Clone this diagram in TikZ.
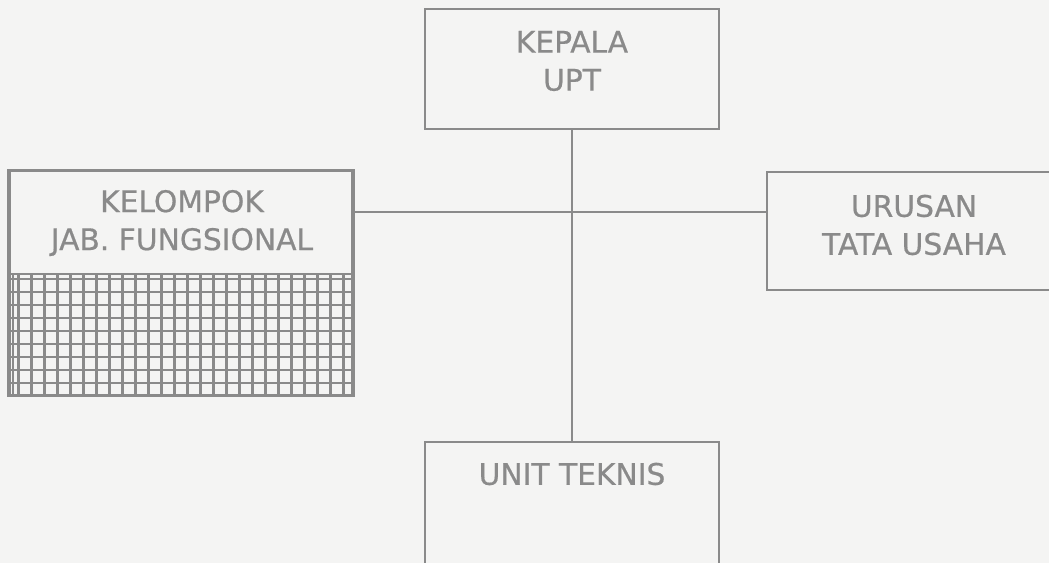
\documentclass[tikz,border=0pt]{standalone}
\usepackage{fontspec}
\setmainfont{DejaVu Sans}
\newfontfamily\boxfont{DejaVu Sans}[FakeBold=0.6]
\usetikzlibrary{positioning}

\definecolor{ink}{HTML}{8A8A8A}
\definecolor{paper}{HTML}{F4F4F3}

\begin{document}
\begin{tikzpicture}[
  x=0.75pt,y=-0.75pt,
  box/.style={rectangle,draw=ink,line width=1.7pt,minimum width=220.5pt,inner sep=0pt},
  lbl/.style={font=\boxfont\fontsize{22.3}{28.5}\selectfont,text=ink,align=center,inner sep=0pt},
  link/.style={draw=ink,line width=1.3pt},
  gridline/.style={draw=ink,line width=1.8pt}
]
  \fill[paper] (0,0) rectangle (1049,563);
  \clip (0,0) rectangle (1049,563);

  % boxes
  \node[box,minimum height=90pt] (kepala) at (572,69) {};
  \node[box,minimum width=257.25pt,minimum height=168pt] (kelompok) at (181,283) {};
  \node[box,minimum height=88.5pt] (urusan) at (914,231) {};
  \node[box,minimum height=105pt] (unit) at (572,512) {};

  % hatched lower half of the functional group
  \coordinate (split) at (181,274);
  \foreach \gx in {13,18.5,31.5,...,343.5}
    \draw[gridline] (\gx,274) -- (\gx,395);
  \foreach \gy in {279,292,...,392}
    \draw[gridline] (kelompok.west |- 0,\gy) -- (kelompok.east |- 0,\gy);
  \draw[box] (kelompok.west |- split) -- (kelompok.east |- split);
  \draw[box] (kelompok.south west) rectangle (kelompok.north east);

  % texts
  \node[lbl] (kepalatxt) at (572,61) {KEPALA\\UPT};
  \node[lbl] (kelompoktxt) at (182,223) {KELOMPOK\\JAB. FUNGSIONAL};
  \node[lbl] (urusantxt) at (914,225) {URUSAN\\TATA USAHA};
  \node[lbl] (unittxt) at (572,474) {UNIT TEKNIS};

  % lines
  \draw[link] (kepala) -- (unit);
  \draw[link] (kelompok.east |- 0,212) -- (urusan.west |- 0,212);
\end{tikzpicture}
\end{document}
